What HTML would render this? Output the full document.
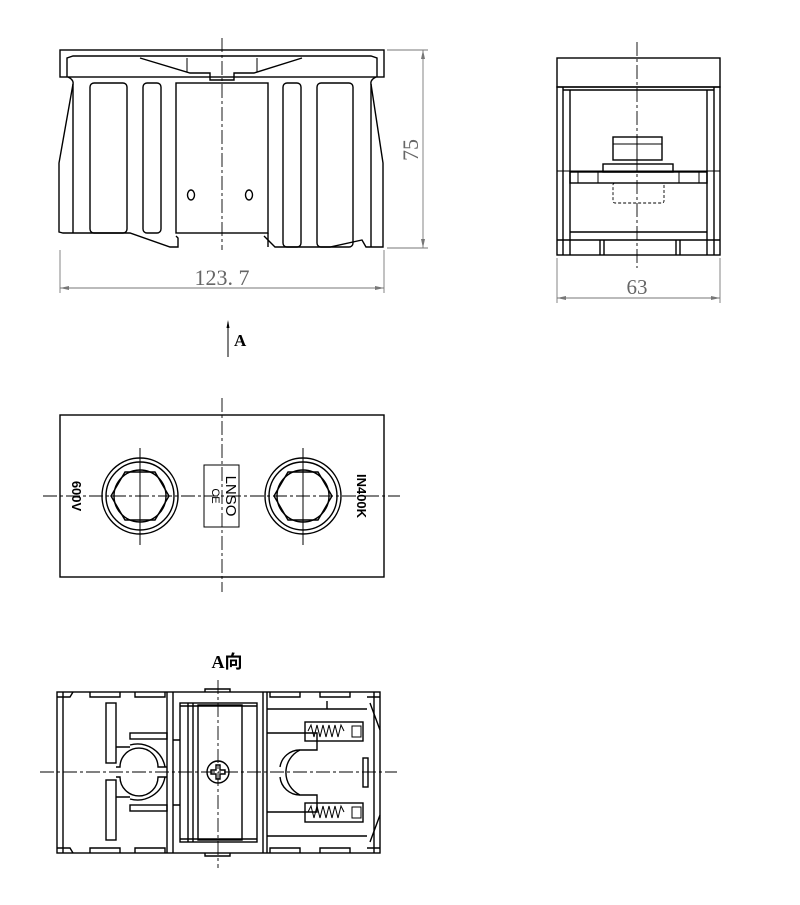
<!DOCTYPE html>
<html><head><meta charset="utf-8"><style>
html,body{margin:0;padding:0;background:#fff;}
svg{display:block;}
.k{fill:none;stroke:#000;stroke-width:1.4;}
.t{fill:none;stroke:#000;stroke-width:1;}
.c{fill:none;stroke:#000;stroke-width:0.9;stroke-dasharray:14 3 3 3;}
.d{fill:none;stroke:#777;stroke-width:0.9;}
.dt{font-family:"Liberation Serif",serif;fill:#666;}
.dsh{fill:none;stroke:#000;stroke-width:0.9;stroke-dasharray:3 2;}
</style></head><body>
<svg width="800" height="905" viewBox="0 0 800 905" xmlns="http://www.w3.org/2000/svg">
<!-- VIEW 1 front -->
<rect class="k" x="60" y="50" width="324" height="27"/>
<path class="k" d="M67 77 L67 58 L73 56 L371 56 L377 58 L377 77"/>
<path class="k" d="M68 77 Q74 80 73 84 L59 163 L59 232 L63 233 L130 233 L170 247 L178 247 L178 238 L176 236"/>
<path class="k" d="M376 77 Q370 80 371 84 L383 163 L383 247 L366 247 L362 240 L330 247 L275 247 L268 240 L264 236"/>
<line class="k" x1="73" y1="84" x2="73" y2="233"/>
<line class="k" x1="371" y1="84" x2="371" y2="247"/>
<path class="k" d="M140 58 L190 73 L210 73 L210 80 L234 80 L234 73 L254 73 L302 58"/>
<line class="t" x1="187" y1="58" x2="187" y2="72"/>
<line class="t" x1="257" y1="58" x2="257" y2="72"/>
<rect class="k" x="176" y="83" width="92" height="150"/>
<rect class="k" x="90" y="83" width="37" height="150" rx="4"/>
<rect class="k" x="143" y="83" width="18" height="150" rx="4"/>
<rect class="k" x="283" y="83" width="18" height="164" rx="4"/>
<rect class="k" x="317" y="83" width="36" height="164" rx="4"/>
<line class="k" x1="268" y1="233" x2="268" y2="247"/>
<ellipse class="k" cx="191" cy="195" rx="3.5" ry="5"/>
<ellipse class="k" cx="249" cy="195" rx="3.5" ry="5"/>
<line class="c" x1="222" y1="38" x2="222" y2="250"/>
<!-- dims -->
<line class="d" x1="387" y1="50" x2="428" y2="50"/>
<line class="d" x1="387" y1="248" x2="428" y2="248"/>
<line class="d" x1="423" y1="50" x2="423" y2="248"/>
<path d="M423 50 l-2 9 h4z M423 248 l-2 -9 h4z" fill="#777"/>
<text class="dt" font-size="22" transform="translate(418,150) rotate(-90)" text-anchor="middle">75</text>
<line class="d" x1="60" y1="250" x2="60" y2="293"/>
<line class="d" x1="384" y1="250" x2="384" y2="293"/>
<line class="d" x1="60" y1="288" x2="384" y2="288"/>
<path d="M60 288 l9 -2 v4z M384 288 l-9 -2 v4z" fill="#777"/>
<text class="dt" font-size="22" x="222" y="285" text-anchor="middle">123. 7</text>

<!-- VIEW 2 side -->
<rect class="k" x="557" y="58" width="163" height="29"/>
<rect class="k" x="557" y="87" width="163" height="168"/>
<line class="k" x1="563" y1="90" x2="714" y2="90"/>
<line class="k" x1="563" y1="87" x2="563" y2="255"/>
<line class="k" x1="570" y1="90" x2="570" y2="255"/>
<line class="k" x1="707" y1="90" x2="707" y2="255"/>
<line class="k" x1="714" y1="87" x2="714" y2="255"/>
<rect class="k" x="613" y="137" width="49" height="23"/>
<line class="t" x1="613" y1="144" x2="662" y2="144"/>
<line class="t" x1="637" y1="137" x2="637" y2="160"/>
<rect class="k" x="603" y="164" width="70" height="8"/>
<rect class="k" x="570" y="172" width="137" height="11"/>
<line class="t" x1="578" y1="172" x2="578" y2="183"/>
<line class="t" x1="598" y1="172" x2="598" y2="183"/>
<line class="t" x1="679" y1="172" x2="679" y2="183"/>
<line class="t" x1="699" y1="172" x2="699" y2="183"/>
<line class="t" x1="557" y1="171" x2="720" y2="171"/>
<rect class="dsh" x="613" y="183" width="51" height="20" rx="2"/>
<line class="k" x1="570" y1="232" x2="707" y2="232"/>
<line class="k" x1="557" y1="240" x2="720" y2="240"/>
<line class="k" x1="600" y1="240" x2="600" y2="255"/>
<line class="k" x1="604" y1="240" x2="604" y2="255"/>
<line class="k" x1="676" y1="240" x2="676" y2="255"/>
<line class="k" x1="680" y1="240" x2="680" y2="255"/>
<line class="c" x1="637" y1="42" x2="637" y2="268"/>
<line class="d" x1="557" y1="258" x2="557" y2="303"/>
<line class="d" x1="720" y1="258" x2="720" y2="303"/>
<line class="d" x1="557" y1="298" x2="720" y2="298"/>
<path d="M557 298 l9 -2 v4z M720 298 l-9 -2 v4z" fill="#777"/>
<text class="dt" font-size="21" x="637" y="294" text-anchor="middle" font-family="Liberation Sans">63</text>

<!-- arrow A -->
<line class="t" x1="228" y1="322" x2="228" y2="357"/>
<path d="M228 320 l-1.5 8 h3z" fill="#000"/>
<text x="234" y="346" font-family="Liberation Serif,serif" font-weight="bold" font-size="17">A</text>

<!-- VIEW 3 top -->
<rect class="k" x="60" y="415" width="324" height="162"/>
<line class="c" x1="43" y1="496" x2="400" y2="496"/>
<line class="c" x1="222" y1="398" x2="222" y2="592"/>
<g id="bolt">
<circle class="k" cx="140" cy="496" r="38"/>
<circle class="k" cx="140" cy="496" r="34"/>
<circle class="k" cx="140" cy="496" r="26"/>
<path class="k" d="M111 496 L125 472 L155 472 L169 496 L155 520 L125 520 Z"/>
<line class="t" x1="140" y1="448" x2="140" y2="545"/>
</g>
<use href="#bolt" transform="translate(163,0)"/>
<rect class="t" x="204" y="465" width="35" height="62"/>
<text font-family="Liberation Sans,sans-serif" font-size="15" transform="translate(226,496) rotate(90)" text-anchor="middle">LNSO</text>
<text font-family="Liberation Sans,sans-serif" font-size="11" transform="translate(212,496) rotate(90)" text-anchor="middle">CE</text>
<text font-family="Liberation Sans,sans-serif" font-size="13" font-weight="bold" transform="translate(72,496) rotate(90)" text-anchor="middle">600V</text>
<text font-family="Liberation Sans,sans-serif" font-size="13" font-weight="bold" transform="translate(357,496) rotate(90)" text-anchor="middle">IN400K</text>

<!-- VIEW 4 -->
<text x="227" y="668" font-family="Liberation Serif,'Noto Sans CJK SC',sans-serif" font-weight="bold" font-size="18" text-anchor="middle">A向</text>
<rect class="k" x="57" y="692" width="323" height="161"/>
<line class="k" x1="63" y1="692" x2="63" y2="853"/>
<line class="k" x1="374" y1="692" x2="374" y2="853"/>
<path class="k" d="M57 697 H70 L73 692 M57 848 H70 L73 853 M380 697 H367 M380 848 H367"/>
<path class="k" d="M90 692 v5 h30 v-5 M135 692 v5 h30 v-5 M205 692 v-3 h25 v3 M270 692 v5 h30 v-5 M320 692 v5 h30 v-5"/>
<path class="k" d="M90 853 v-5 h30 v5 M135 853 v-5 h30 v5 M205 853 v3 h25 v-3 M270 853 v-5 h30 v5 M320 853 v-5 h30 v5"/>
<line class="k" x1="167" y1="692" x2="167" y2="853"/>
<line class="k" x1="173" y1="692" x2="173" y2="853"/>
<line class="k" x1="267" y1="692" x2="267" y2="853"/>
<line class="k" x1="263" y1="692" x2="263" y2="853"/>
<rect class="k" x="180" y="703" width="77" height="139"/>
<line class="k" x1="188" y1="703" x2="188" y2="842"/>
<line class="k" x1="193" y1="703" x2="193" y2="842"/>
<rect class="k" x="198" y="705" width="44" height="135"/>
<line class="k" x1="180" y1="706" x2="257" y2="706"/>
<line class="k" x1="180" y1="839" x2="257" y2="839"/>
<path class="k" d="M173 740 h7 M173 805 h7"/>
<rect class="k" x="106" y="703" width="10" height="60"/>
<rect class="k" x="106" y="780" width="10" height="60"/>
<path class="k" d="M116 747 h14 M116 797 h14"/>
<rect class="k" x="130" y="733" width="37" height="6"/>
<rect class="k" x="130" y="805" width="37" height="6"/>
<path class="k" d="M116 767 h4 A19 19 0 0 1 158 767 h9 M116 777 h4 A19 19 0 0 0 158 777 h9"/>
<path class="k" d="M130 745 A28 28 0 0 1 165 767 M130 799 A28 28 0 0 0 165 777"/>
<circle class="k" cx="218" cy="772" r="11"/>
<path class="k" d="M211 770 h5 v-5 h4 v5 h5 v4 h-5 v5 h-4 v-5 h-5z"/>
<path class="k" d="M267 709 h60 v-8 M327 709 h40"/>
<path class="k" d="M267 733 h50 v17 h-17 A25 25 0 0 0 300 795 h17 v17 h-50"/>
<path class="k" d="M280 767 A20 20 0 0 1 300 750 M280 777 A20 20 0 0 0 300 795"/>
<path class="k" d="M267 836 h100"/>
<rect class="k" x="305" y="722" width="58" height="19"/>
<rect class="k" x="305" y="803" width="58" height="19"/>
<path class="t" d="M308 731 l3 -6 l3 12 l3 -12 l3 12 l3 -12 l3 12 l3 -12 l3 12 l3 -12 l3 12 l3 -12 l3 6"/>
<path class="t" d="M308 812 l3 -6 l3 12 l3 -12 l3 12 l3 -12 l3 12 l3 -12 l3 12 l3 -12 l3 12 l3 -12 l3 6"/>
<rect class="t" x="352" y="726" width="9" height="11"/>
<rect class="t" x="352" y="807" width="9" height="11"/>
<rect class="k" x="363" y="758" width="5" height="29"/>
<path class="k" d="M370 703 L380 730 M370 842 L380 815"/>
<line class="c" x1="40" y1="772" x2="397" y2="772"/>
<line class="c" x1="218" y1="680" x2="218" y2="868"/>
</svg>
</body></html>
